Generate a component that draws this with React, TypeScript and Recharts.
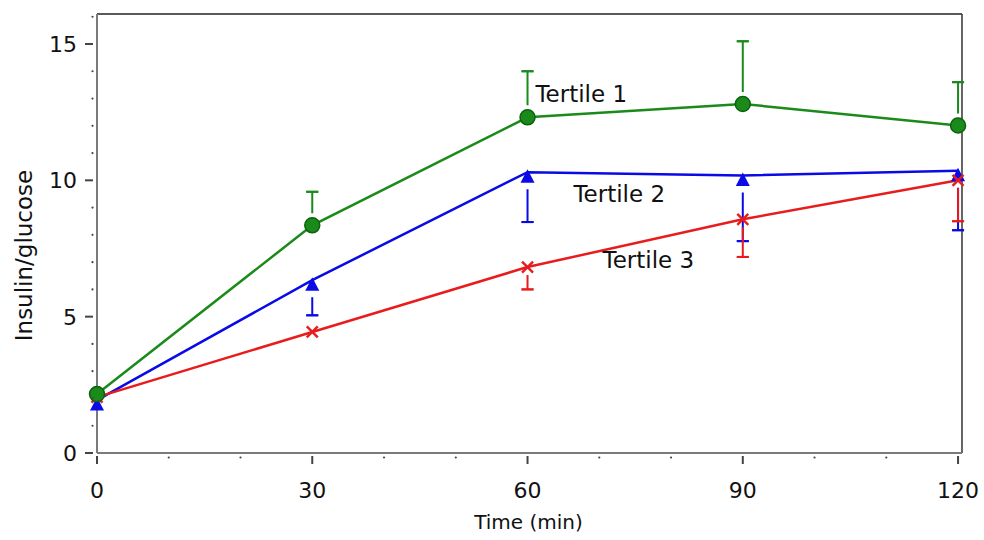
import { LineChart, Line, XAxis, YAxis, ErrorBar, ReferenceLine, ReferenceDot, Label } from 'recharts'

const times = [0, 30, 60, 90, 120]

// insulin/glucose ratio, mean per tertile
const tertile1 = [2.16, 8.35, 12.31, 12.8, 12.01]
const tertile2 = [1.94, 6.34, 10.3, 10.18, 10.35]
const tertile3 = [2.05, 4.44, 6.82, 8.57, 10.0]

// one-sided error bars (T1 drawn upward, T2/T3 drawn downward)
const tertile1Err = [null, 1.23, 1.69, 2.3, 1.59]
const tertile2Err = [null, 1.29, 1.83, 2.41, 2.18]
const tertile3Err = [null, null, 0.82, 1.38, 1.5]

const xTicks = [0, 10, 20, 30, 40, 50, 60, 70, 80, 90, 100, 110, 120]
const yTicks = [0, 1, 2, 3, 4, 5, 6, 7, 8, 9, 10, 11, 12, 13, 14, 15, 16]

const seriesLabels = [
  { text: 'Tertile 1', x: 61.1, y: 12.88 },
  { text: 'Tertile 2', x: 66.4, y: 9.22 },
  { text: 'Tertile 3', x: 70.45, y: 6.78 },
]

const X_MAX = 120.55
const Y_MAX = 16.1

const GREEN = '#1a8a1a'
const BLUE = '#0a0ae6'
const RED = '#e81c1c'
const AXIS = '#7a7a7a'
const FONT = '"DejaVu Sans", sans-serif'

const data = times.map((t, i) => ({
  time: t,
  t1: tertile1[i],
  t2: tertile2[i],
  t3: tertile3[i],
  e1: tertile1Err[i],
  e2: tertile2Err[i],
  e3: tertile3Err[i],
}))

// stem goes from the point outwards, caps only at the far end
const stem = (key: string, dir: number) => (d: any) => (d[key] == null ? null : [0, dir * d[key]])
const cap = (key: string, dir: number) => (d: any) => (d[key] == null ? null : [-dir * d[key], dir * d[key]])

function XTick({ x, y, payload }: any) {
  const v = payload.value
  if (v % 30 !== 0) return <circle cx={x} cy={y + 4.5} r={1.1} fill="#444" />
  return (
    <g>
      <line x1={x} x2={x} y1={y + 3} y2={y + 11} stroke="#444" strokeWidth={2} />
      <text x={x} y={y + 45} textAnchor="middle" fontSize={22} fontFamily={FONT} fill="#111">
        {v}
      </text>
    </g>
  )
}

function YTick({ x, y, payload }: any) {
  const v = payload.value
  if (v % 5 !== 0) return <circle cx={x - 4.5} cy={y} r={1.1} fill="#444" />
  return (
    <g>
      <line x1={x - 12} x2={x - 4} y1={y} y2={y} stroke="#444" strokeWidth={2} />
      <text x={x - 20} y={y + 8} textAnchor="end" fontSize={22} fontFamily={FONT} fill="#111">
        {v}
      </text>
    </g>
  )
}

function CircleDot({ cx, cy }: any) {
  if (cx == null || cy == null) return null
  return <circle cx={cx} cy={cy} r={7.5} fill={GREEN} stroke="#0c620c" strokeWidth={1.5} />
}

function TriangleDot({ cx, cy }: any) {
  if (cx == null || cy == null) return null
  return <path d={`M${cx},${cy - 3}L${cx + 7},${cy + 10.5}L${cx - 7},${cy + 10.5}Z`} fill={BLUE} />
}

function CrossDot({ cx, cy }: any) {
  if (cx == null || cy == null) return null
  return (
    <g stroke={RED} strokeWidth={2.4}>
      <line x1={cx - 5.5} y1={cy - 5.5} x2={cx + 5.5} y2={cy + 5.5} />
      <line x1={cx - 5.5} y1={cy + 5.5} x2={cx + 5.5} y2={cy - 5.5} />
    </g>
  )
}

export default function App() {
  return (
    <div style={{ position: 'absolute', left: 0, top: 0, background: '#fff' }}>
      <LineChart width={984} height={540} data={data} margin={{ top: 14, right: 22, bottom: 27, left: 37 }}>
        <XAxis
          dataKey="time"
          type="number"
          domain={[0, X_MAX]}
          ticks={xTicks}
          interval={0}
          tickSize={0}
          tickMargin={0}
          tickLine={false}
          tick={XTick}
          height={60}
          axisLine={{ stroke: AXIS, strokeWidth: 2 }}
        >
          <Label
            content={({ viewBox }: any) => (
              <text
                x={viewBox.x + viewBox.width / 2 - 1}
                y={viewBox.y + 76}
                textAnchor="middle"
                fontSize={20}
                fontFamily={FONT}
                fill="#111"
              >
                Time (min)
              </text>
            )}
          />
        </XAxis>
        <YAxis
          type="number"
          domain={[0, Y_MAX]}
          ticks={yTicks}
          interval={0}
          tickSize={0}
          tickMargin={0}
          tickLine={false}
          tick={YTick}
          width={60}
          axisLine={{ stroke: AXIS, strokeWidth: 2 }}
        >
          <Label
            content={({ viewBox }: any) => (
              <text
                transform={`translate(${viewBox.x - 13}, ${viewBox.y + viewBox.height / 2 + 22}) rotate(-90)`}
                textAnchor="middle"
                dominantBaseline="central"
                fontSize={23}
                fontFamily={FONT}
                fill="#111"
              >
                Insulin/glucose
              </text>
            )}
          />
        </YAxis>

        {/* closed frame on top and right */}
        <ReferenceLine y={Y_MAX} stroke="#222" strokeWidth={1.5} />
        <ReferenceLine x={X_MAX} stroke="#333" strokeWidth={1.5} />

        <Line
          dataKey="t2"
          stroke={BLUE}
          strokeWidth={2.5}
          dot={TriangleDot}
          activeDot={false}
          isAnimationActive={false}
        >
          <ErrorBar dataKey={stem('e2', -1)} width={0} stroke={BLUE} strokeWidth={2} strokeDasharray="0 17 1000" isAnimationActive={false} />
          <ErrorBar dataKey={cap('e2', -1)} width={6} stroke={BLUE} strokeWidth={2} isAnimationActive={false} />
        </Line>
        <Line
          dataKey="t3"
          stroke={RED}
          strokeWidth={2.5}
          dot={CrossDot}
          activeDot={false}
          isAnimationActive={false}
        >
          <ErrorBar dataKey={stem('e3', -1)} width={0} stroke={RED} strokeWidth={2} strokeDasharray="0 8 1000" isAnimationActive={false} />
          <ErrorBar dataKey={cap('e3', -1)} width={6} stroke={RED} strokeWidth={2} isAnimationActive={false} />
        </Line>
        <Line
          dataKey="t1"
          stroke={GREEN}
          strokeWidth={2.5}
          dot={CircleDot}
          activeDot={false}
          isAnimationActive={false}
        >
          <ErrorBar dataKey={stem('e1', 1)} width={0} stroke={GREEN} strokeWidth={2} strokeDasharray="0 12 1000" isAnimationActive={false} />
          <ErrorBar dataKey={cap('e1', 1)} width={6} stroke={GREEN} strokeWidth={2} isAnimationActive={false} />
        </Line>

        {seriesLabels.map((l) => (
          <ReferenceDot
            key={l.text}
            x={l.x}
            y={l.y}
            r={0}
            fill="none"
            stroke="none"
            label={({ viewBox }: any) => (
              <text x={viewBox.x} y={viewBox.y} fontSize={23} fontFamily={FONT} fill="#111">
                {l.text}
              </text>
            )}
          />
        ))}
      </LineChart>
    </div>
  )
}
